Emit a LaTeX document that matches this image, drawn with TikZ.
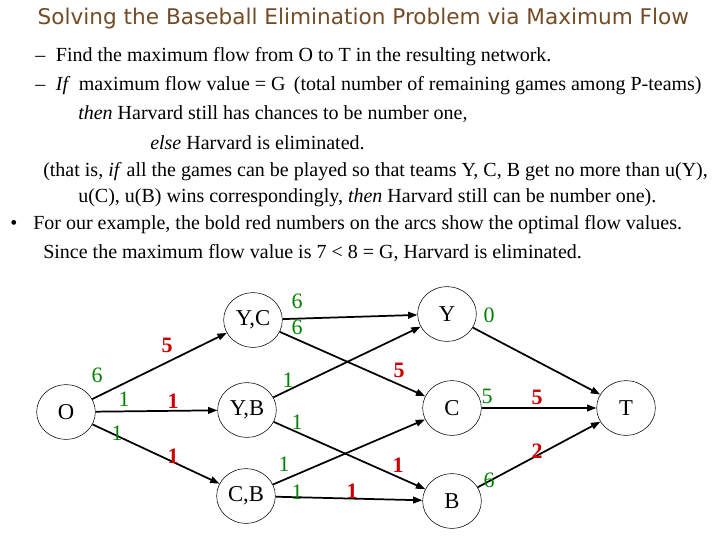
\documentclass[tikz,border=0pt]{standalone}
\usepackage{fontspec}
\setmainfont{Liberation Serif}
\newfontfamily\titlefont{DejaVu Sans}
\usetikzlibrary{arrows.meta,shapes.geometric}
\begin{document}
\begin{tikzpicture}[x=0.75pt,y=-0.75pt,
 nd/.style={draw,ellipse,minimum width=44pt,minimum height=41pt,inner sep=0pt,font=\fontsize{17}{17}\selectfont},
 ar/.style={-{Triangle[length=7pt,width=5pt]},line width=1.3pt},
 gl/.style={text=green!50!black,font=\fontsize{16.5}{16.5}\selectfont},
 rl/.style={text=red!80!black,font=\bfseries\fontsize{16.5}{16.5}\selectfont},
 tx/.style={anchor=west,font=\fontsize{15}{15}\selectfont,inner sep=0pt}]
\useasboundingbox (0,0) rectangle (720,540);
\node[anchor=west,text=brown!60!black,font=\titlefont\fontsize{16.2}{17}\selectfont] (title) at (33,19) {Solving the Baseball Elimination Problem via Maximum Flow};
\node[tx] (l1) at (35,57) {–\hspace{8pt}Find the maximum flow from O to T in the resulting network.};
\node[tx] (l2) at (35,86) {–\hspace{8pt}\textit{If}\, maximum flow value = G\, (total number of remaining games among P-teams)};
\node[tx] (l3) at (78,114) {\textit{then} Harvard still has chances to be number one,};
\node[tx] (l4) at (150,143) {\textit{else} Harvard is eliminated.};
\node[tx] (l5) at (43,172) {(that is, \textit{if} all the games can be played so that teams Y, C, B get no more than u(Y),};
\node[tx] (l6) at (78,198) {u(C), u(B) wins correspondingly, \textit{then} Harvard still can be number one).};
\node[tx] (l7) at (10,225) {•\hspace{12pt}For our example, the bold red numbers on the arcs show the optimal flow values.};
\node[tx] (l8) at (43,253) {Since the maximum flow value is 7 < 8 = G, Harvard is eliminated.};
\node[nd] (O) at (66,412) {O};
\node[nd] (YC) at (253,320) {Y,C};
\node[nd] (YB) at (247,410) {Y,B};
\node[nd] (CB) at (246,496) {C,B};
\node[nd] (Y) at (447,314) {Y};
\node[nd] (C) at (452,408) {C};
\node[nd] (B) at (452,501) {B};
\node[nd] (T) at (626,408) {T};
\draw[ar] (O) -- (YC);
\draw[ar] (O) -- (YB);
\draw[ar] (O) -- (CB);
\draw[ar] (YC) -- (Y);
\draw[ar] (YC) -- (C);
\draw[ar] (YB) -- (Y);
\draw[ar] (YB) -- (B);
\draw[ar] (CB) -- (C);
\draw[ar] (CB) -- (B);
\draw[ar] (Y) -- (T);
\draw[ar] (C) -- (T);
\draw[ar] (B) -- (T);
\node[gl] (g1) at (97,375) {6};
\node[rl] (r1) at (167,345) {5};
\node[gl] (g2) at (124,399) {1};
\node[rl] (r2) at (173,401) {1};
\node[gl] (g3) at (117,433) {1};
\node[rl] (r3) at (173,456) {1};
\node[gl] (g4) at (297,301) {6};
\node[gl] (g5) at (297,327) {6};
\node[gl] (g6) at (489,315) {0};
\node[rl] (r4) at (399,370) {5};
\node[gl] (g7) at (288,380) {1};
\node[gl] (g8) at (297,422) {1};
\node[gl] (g9) at (487,396) {5};
\node[rl] (r5) at (537,397) {5};
\node[gl] (g10) at (284,464) {1};
\node[gl] (g11) at (297,492) {1};
\node[rl] (r6) at (352,491) {1};
\node[rl] (r7) at (398,465) {1};
\node[rl] (r8) at (537,451) {2};
\node[gl] (g12) at (489,480) {6};
\end{tikzpicture}
\end{document}
